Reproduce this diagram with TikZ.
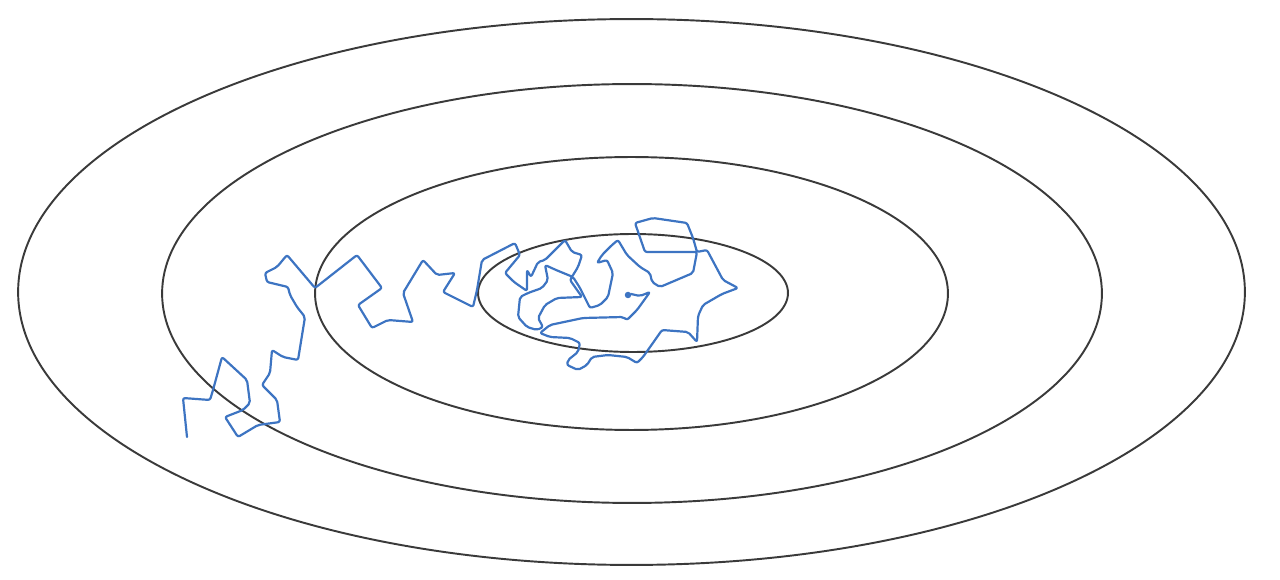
\documentclass[tikz,border=0pt]{standalone}
\definecolor{contour}{HTML}{3A3A3A}
\definecolor{walk}{HTML}{3D74C2}
\tikzset{
  level/.style={draw=contour, line width=1.1pt},
  walkline/.style={draw=walk, line width=1.25pt, line join=round, line cap=round, rounded corners=1.2pt},
}
\begin{document}
\begin{tikzpicture}[x=0.02cm, y=-0.02cm]
\useasboundingbox (0,0) rectangle (1280,580);
% contour ellipses
\draw[level] (631.5,292) ellipse [x radius=12.27cm, y radius=5.46cm];
\draw[level] (632,293.5) ellipse [x radius=9.4cm, y radius=4.19cm];
\draw[level] (631.5,293.5) ellipse [x radius=6.33cm, y radius=2.73cm];
\draw[level] (633,293) ellipse [x radius=3.1cm, y radius=1.18cm];
% random walk
\draw[walkline] (187,437) -- (183,398) -- (210,400) -- (213,390) -- (222,357)
  -- (247,380) -- (250,403) -- (243,410) -- (225,417) -- (238,437)
  -- (258,425) -- (280,422) -- (277,400) -- (262,385) -- (270,373)
  -- (272,350) -- (283,357) -- (298,360) -- (305,317) -- (297,307)
  -- (290,295) -- (288,287) -- (267,282) -- (265,273) -- (277,267)
  -- (287,255) -- (315,288) -- (357,255) -- (382,288) -- (358,305)
  -- (372,328) -- (388,320) -- (413,322) -- (403,293) -- (423,260)
  -- (437,275) -- (455,273) -- (443,292) -- (473,307) -- (477,290)
  -- (482,260) -- (515,243) -- (520,255) -- (505,273) -- (514,282)
  -- (527,291) -- (527,270) -- (531,277) -- (538,262) -- (545,260)
  -- (565,240) -- (572,252) -- (582,255) -- (578,267) -- (570,280)
  -- (582,297) -- (557,298) -- (545,305) -- (538,318) -- (543,327)
  -- (537,330) -- (527,327) -- (518,317) -- (520,297) -- (528,293)
  -- (542,288) -- (548,280) -- (545,265) -- (556,270) -- (573,277)
  -- (580,288) -- (590,308) -- (600,305) -- (608,297) -- (613,273)
  -- (607,260) -- (597,263) -- (602,255) -- (612,245) -- (618,240)
  -- (627,255) -- (640,267) -- (650,273) -- (652,282) -- (660,287)
  -- (693,273) -- (697,252) -- (645,252) -- (635,223) -- (653,218)
  -- (687,223) -- (693,238) -- (697,252) -- (707,250) -- (723,280)
  -- (738,288) -- (722,294) -- (703,305) -- (698,316) -- (697,342)
  -- (688,332) -- (662,330) -- (655,340) -- (643,357) -- (637,363)
  -- (627,357) -- (608,355) -- (592,357) -- (587,365) -- (578,370)
  -- (567,365) -- (568,360) -- (578,352) -- (580,343) -- (570,338)
  -- (550,337) -- (540,333) -- (550,325) -- (583,318) -- (623,317)
  -- (627,320) -- (637,310) -- (650,292) -- (640,296) -- (631,294);
\fill[walk] (628,295) circle [radius=0.065cm];
\end{tikzpicture}
\end{document}
